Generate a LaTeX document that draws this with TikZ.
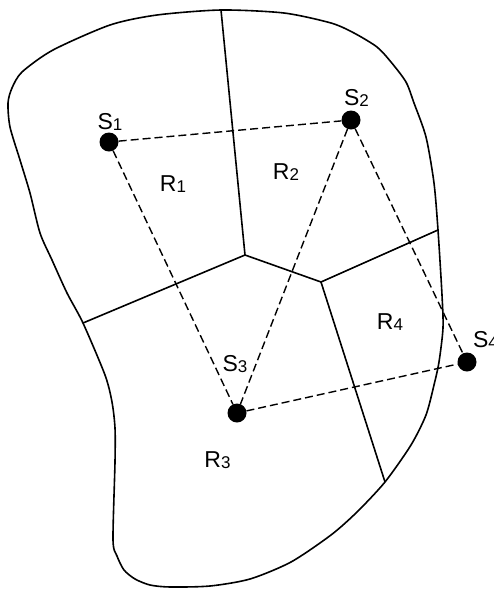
\documentclass[tikz,border=0pt]{standalone}
\usepackage{fontspec}
\setmainfont{Liberation Sans}
\usetikzlibrary{positioning}

\newcommand{\sitelabel}[2]{#1\raisebox{-1pt}{\fontsize{17}{17}\selectfont #2}}

\begin{document}
\begin{tikzpicture}[x=1pt, y=-1pt,
  site/.style={circle, fill=black, minimum size=19pt, inner sep=0pt},
  tag/.style={inner sep=0pt, font=\fontsize{23}{23}\selectfont},
  border/.style={line width=1.6pt, line join=round},
  cell/.style={line width=1.6pt},
  link/.style={line width=1.4pt, dash pattern=on 8pt off 4pt}]
\useasboundingbox (0,0) rectangle (494,590);

% --- Outer region ---
\draw[border] plot[smooth cycle, tension=0.45] coordinates {
  (221,10) (284,13) (331,23) (354,33) (377,47) (391,62) (406,82)
  (414,103) (426,137) (434,183) (438,230) (442,295) (443,328)
  (439,362) (434,385) (426,415) (411,445) (385,482) (357,512)
  (331,535) (291,562) (250,579) (210,586) (170,587) (150,585)
  (135,579) (124,570) (117,556) (113,540) (115,462) (115,428)
  (112,402) (105,375) (83,323) (67,293) (52,260) (40,233)
  (30,193) (20,160) (10,127) (8,103) (12,88) (22,72) (53,50)
  (110,25) (157,15)};

% --- Cell boundaries ---
\coordinate (vtop) at (221,10);
\coordinate (vleft) at (83,323);
\coordinate (vright) at (438,230);
\coordinate (vbottom) at (385,482);
\coordinate (va) at (245,255);
\coordinate (vb) at (321,282);
\draw[cell] (vtop) -- (va) -- (vleft);
\draw[cell] (va) -- (vb) -- (vright);
\draw[cell] (vb) -- (vbottom);

% --- Sites ---
\node[site] (s1) at (109,142) {};
\node[site] (s2) at (351,120) {};
\node[site] (s3) at (237,413) {};
\node[site] (s4) at (467,362) {};

\node[tag] (s1lbl) at (110,121.5) {\sitelabel{S}{1}};
\node[tag] (s2lbl) at (356.5,98) {\sitelabel{S}{2}};
\node[tag] (s3lbl) at (235,364) {\sitelabel{S}{3}};
\node[tag] (s4lbl) at (485.5,340) {\sitelabel{S}{4}};

% --- Regions ---
\node[tag] (r1) at (173,184.5) {\sitelabel{R}{1}};
\node[tag] (r2) at (286,172.5) {\sitelabel{R}{2}};
\node[tag] (r3) at (217.5,460.5) {\sitelabel{R}{3}};
\node[tag] (r4) at (390,322) {\sitelabel{R}{4}};

% --- Links between sites ---
\draw[link] (s1) -- (s2);
\draw[link] (s1) -- (s3);
\draw[link] (s2) -- (s3);
\draw[link] (s2) -- (s4);
\draw[link] (s3) -- (s4);

\end{tikzpicture}
\end{document}
